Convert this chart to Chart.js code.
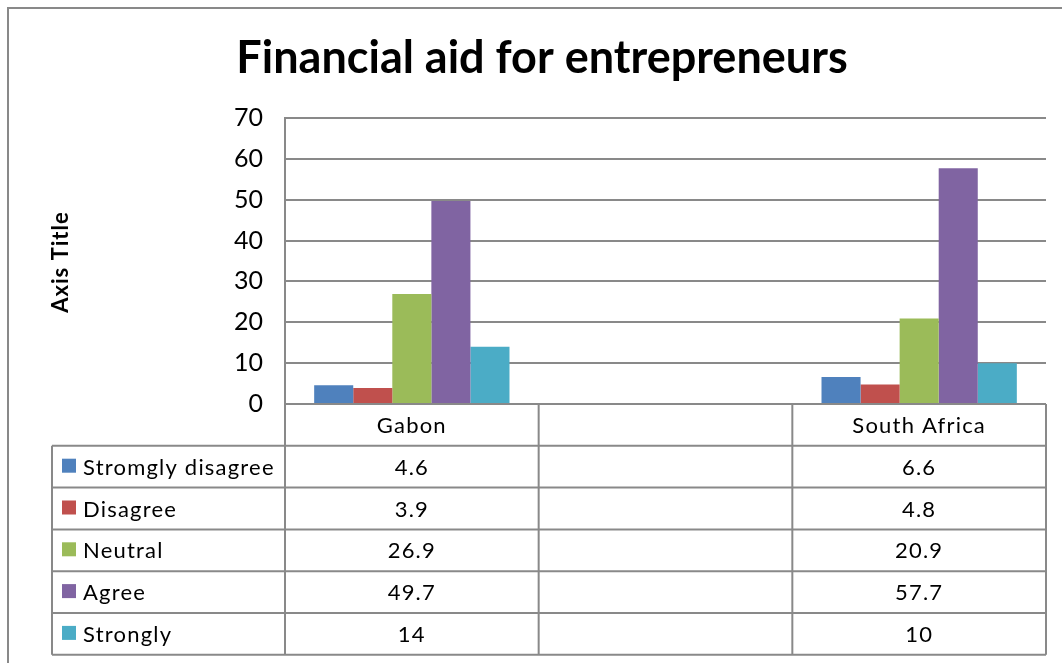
<!DOCTYPE html>
<html>
<head>
<meta charset="utf-8">
<title>Financial aid for entrepreneurs</title>
<script src="https://cdn.jsdelivr.net/npm/chart.js@4"></script>
<style>
  html, body { margin: 0; padding: 0; background: #fff; }
  #wrap { width: 1062px; height: 663px; }
</style>
</head>
<body>
<div id="wrap"><canvas id="chart" width="1062" height="663"></canvas></div>
<script>
const categories = ["Gabon", "", "South Africa"];
const seriesNames = ["Stromgly disagree", "Disagree", "Neutral", "Agree", "Strongly"];
const stronglyDisagree = [4.6, null, 6.6];
const disagree = [3.9, null, 4.8];
const neutral = [26.9, null, 20.9];
const agree = [49.7, null, 57.7];
const strongly = [14, null, 10];
const seriesColors = ["#4F81BD", "#C0504D", "#9BBB59", "#8064A2", "#4BACC6"];

const chartTitle = "Financial aid for entrepreneurs";
const yAxisTitle = "Axis Title";

const allSeries = [stronglyDisagree, disagree, neutral, agree, strongly];
const FONT = "Lato, 'Open Sans', sans-serif";
const LINE = "#898989";

const datasets = allSeries.map((vals, i) => ({
  label: seriesNames[i],
  data: vals,
  backgroundColor: seriesColors[i],
  borderWidth: 0,
  categoryPercentage: 0.77,
  barPercentage: 1.0
}));

// draws the title, axis title, frame and the excel style data table
const decorPlugin = {
  id: "decor",
  beforeDraw(chart) {
    const ctx = chart.ctx;
    ctx.save();
    ctx.fillStyle = "#fff";
    ctx.fillRect(0, 0, chart.width, chart.height);
    ctx.restore();
  },
  afterDraw(chart) {
    const ctx = chart.ctx;
    const area = chart.chartArea;
    const colW = area.width / categories.length;
    const rowH = 41.8;
    const tableLeft = 52;
    const top = area.bottom;

    ctx.save();
    // outer frame
    ctx.strokeStyle = LINE;
    ctx.lineWidth = 2;
    ctx.beginPath();
    ctx.moveTo(8, chart.height + 5);
    ctx.lineTo(8, 8);
    ctx.lineTo(chart.width + 5, 8);
    ctx.stroke();

    // title
    ctx.fillStyle = "#000";
    ctx.font = "bold 45px " + FONT;
    ctx.textAlign = "center";
    ctx.textBaseline = "middle";
    ctx.fillText(chartTitle, 542, 58);

    // y axis title
    ctx.save();
    ctx.translate(61, 262);
    ctx.rotate(-Math.PI / 2);
    ctx.font = "bold 22px " + FONT;
    ctx.letterSpacing = "1px";
    ctx.fillText(yAxisTitle, 0, 0);
    ctx.restore();

    // table lines
    ctx.strokeStyle = LINE;
    ctx.lineWidth = 2;
    const bottom = top + rowH * (seriesNames.length + 1);
    ctx.beginPath();
    ctx.moveTo(area.left, top);
    ctx.lineTo(area.right, top);
    for (let r = 1; r <= seriesNames.length + 1; r++) {
      const y = top + rowH * r;
      ctx.moveTo(tableLeft, y);
      ctx.lineTo(area.right, y);
    }
    ctx.moveTo(tableLeft, top + rowH);
    ctx.lineTo(tableLeft, bottom);
    for (let c = 0; c <= categories.length; c++) {
      const x = area.left + colW * c;
      ctx.moveTo(x, top);
      ctx.lineTo(x, bottom);
    }
    ctx.stroke();

    // header labels
    ctx.font = "22px " + FONT;
    ctx.letterSpacing = "1.2px";
    ctx.fillStyle = "#000";
    categories.forEach((cat, c) => {
      const x = chart.scales.x.getPixelForValue(c);
      ctx.fillText(cat, x, top + rowH / 2 + 1);
    });

    // rows
    seriesNames.forEach((name, r) => {
      const yMid = top + rowH * (r + 1.5) + 1;
      ctx.fillStyle = seriesColors[r];
      ctx.fillRect(62, yMid - 9, 14, 14);
      ctx.fillStyle = "#000";
      ctx.textAlign = "left";
      ctx.fillText(name, 83, yMid);
      ctx.textAlign = "center";
      allSeries[r].forEach((v, c) => {
        if (v === null) return;
        const x = chart.scales.x.getPixelForValue(c);
        ctx.fillText(String(v), x, yMid);
      });
    });
    ctx.letterSpacing = "0px";
    ctx.restore();
  }
};

new Chart(document.getElementById("chart"), {
  type: "bar",
  data: { labels: categories, datasets },
  plugins: [decorPlugin],
  options: {
    responsive: false,
    animation: false,
    devicePixelRatio: 1,
    layout: { padding: { top: 118, right: 16, bottom: 259, left: 0 } },
    plugins: {
      legend: { display: false },
      title: { display: false },
      tooltip: { enabled: false }
    },
    scales: {
      x: {
        display: false,
        offset: true
      },
      y: {
        min: 0,
        max: 70,
        ticks: {
          stepSize: 10,
          color: "#000",
          font: { family: FONT, size: 25 },
          padding: 22
        },
        grid: { color: LINE, lineWidth: 2, drawTicks: false },
        border: { color: LINE, width: 2 },
        afterFit(scale) { scale.width = 285; }
      }
    }
  }
});
</script>
</body>
</html>
